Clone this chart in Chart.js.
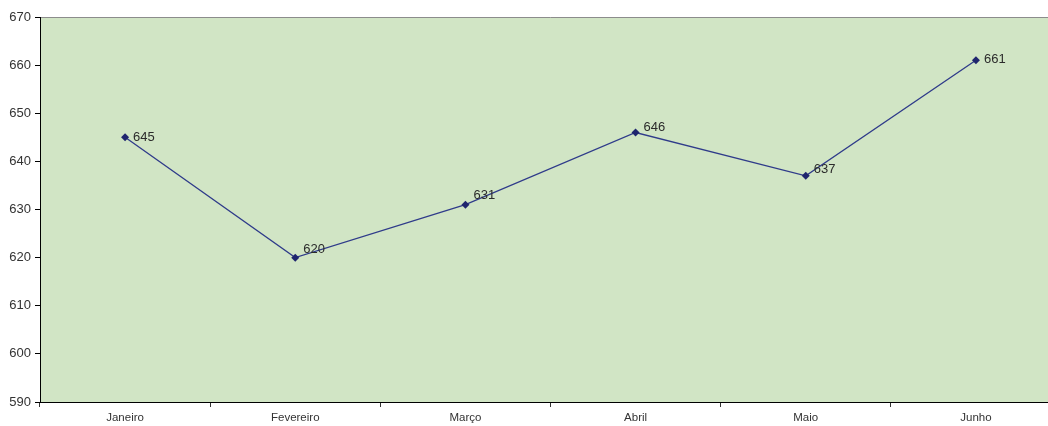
<!DOCTYPE html>
<html>
<head>
<meta charset="utf-8">
<script src="https://cdn.jsdelivr.net/npm/chart.js@4.4.0/dist/chart.umd.min.js"></script>
<style>
  html, body { margin: 0; padding: 0; background: #fff; overflow: hidden; }
  #box { width: 1065px; height: 426px; }
</style>
</head>
<body>
<div id="box"><canvas id="grafico"></canvas></div>
<script>
const meses = ['Janeiro', 'Fevereiro', 'Março', 'Abril', 'Maio', 'Junho'];
const valores = [645, 620, 631, 646, 637, 661];
const eixoMin = 590;
const eixoMax = 670;
const eixoPasso = 10;

// fundo verde da area do grafico + borda de cima
const fundoArea = {
    id: 'fundoArea',
    beforeDraw(chart) {
        const { ctx, chartArea: a } = chart;
        ctx.save();
        ctx.fillStyle = '#d1e5c5';
        ctx.fillRect(a.left, a.top, a.right - a.left, a.bottom - a.top);
        ctx.strokeStyle = '#8c8c8c';
        ctx.lineWidth = 1;
        ctx.beginPath();
        ctx.moveTo(a.left, a.top + 0.5);
        ctx.lineTo(a.right, a.top + 0.5);
        ctx.stroke();
        ctx.restore();
    }
};

// rotulos de valor ao lado dos pontos
const deslocY = [0, -8, -9, -5, -6, -1];
const rotulos = {
    id: 'rotulos',
    afterDatasetsDraw(chart) {
        const { ctx } = chart;
        const meta = chart.getDatasetMeta(0);
        ctx.save();
        ctx.font = '13px "Liberation Sans", Arial, sans-serif';
        ctx.fillStyle = '#2b2b2b';
        ctx.textAlign = 'left';
        ctx.textBaseline = 'middle';
        meta.data.forEach((p, i) => {
            ctx.fillText(String(valores[i]), p.x + 8, p.y + deslocY[i]);
        });
        ctx.restore();
    }
};

new Chart(document.getElementById('grafico'), {
    type: 'line',
    data: {
        labels: meses,
        datasets: [{
            data: valores,
            borderColor: '#2f3b8a',
            backgroundColor: '#1f256e',
            borderWidth: 1.3,
            pointStyle: 'rectRot',
            pointRadius: 4,
            pointHoverRadius: 4,
            pointBorderWidth: 0,
            tension: 0
        }]
    },
    options: {
        responsive: true,
        maintainAspectRatio: false,
        animation: false,
        layout: { padding: { top: 17, left: 0, right: 0, bottom: 0 } },
        plugins: {
            legend: { display: false },
            tooltip: { enabled: false }
        },
        scales: {
            x: {
                type: 'category',
                offset: true,
                afterFit: (s) => { s.height = 24; },
                grid: {
                    offset: true,
                    drawOnChartArea: false,
                    tickLength: 5,
                    color: '#333'
                },
                border: { color: '#000', width: 1 },
                ticks: {
                    color: '#333',
                    padding: 4,
                    font: { size: 11.5, family: '"Liberation Sans", Arial, sans-serif' }
                }
            },
            y: {
                min: eixoMin,
                max: eixoMax,
                afterFit: (s) => { s.width = 40; },
                grid: {
                    drawOnChartArea: false,
                    tickLength: 5,
                    color: '#000'
                },
                border: { color: '#000', width: 1 },
                ticks: {
                    stepSize: eixoPasso,
                    color: '#333',
                    padding: 4,
                    font: { size: 13, family: '"Liberation Sans", Arial, sans-serif' }
                }
            }
        }
    },
    plugins: [fundoArea, rotulos]
});
</script>
</body>
</html>
